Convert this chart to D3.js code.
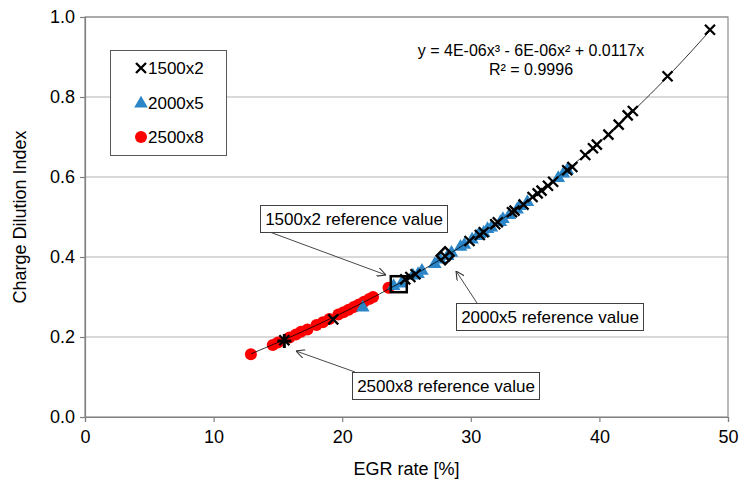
<!DOCTYPE html>
<html lang="en">

<head>
    <meta charset="UTF-8" />
    <title>Charge dilution index vs EGR rate</title>
    <script src="https://d3js.org/d3.v7.min.js"></script>
    <style>
        body {
            margin: 0;
            background: #fff;
        }

        svg text {
            font-family: "Liberation Sans", Arial, sans-serif;
            fill: #000;
        }

        .tick text {
            font-size: 18px;
        }
    </style>
</head>

<body>
    <svg width="739" height="483"></svg>
    <script>
        // 1500x2 points (EGR rate %, charge dilution index)
        const egr1500 = [15.5, 19.3, 24.9, 25.3, 25.7, 28.0, 29.9, 30.7, 31.0, 31.9, 32.1, 33.2, 33.4, 34.1, 34.8,
            35.2, 35.5, 36.0, 36.4, 37.5, 37.9, 38.9, 39.5, 39.8, 40.7, 41.5, 42.2, 42.6, 45.3, 48.6];
        const cdi1500 = [0.192, 0.244, 0.344, 0.350, 0.357, 0.402, 0.440, 0.455, 0.462, 0.482, 0.487, 0.512, 0.516, 0.531, 0.550,
            0.559, 0.566, 0.578, 0.588, 0.617, 0.625, 0.655, 0.672, 0.681, 0.706, 0.731, 0.754, 0.765, 0.852, 0.968];

        // 2000x5 points
        const egr2000 = [21.6, 24.0, 24.6, 25.5, 25.9, 26.2, 27.2, 27.6, 28.2, 28.5, 29.2, 29.5, 30.1, 30.5, 30.7,
            31.0, 31.3, 31.6, 32.3, 32.5, 33.0, 33.6, 33.8, 34.4, 36.8, 37.2, 37.5];
        const cdi2000 = [0.276, 0.330, 0.336, 0.356, 0.360, 0.368, 0.385, 0.396, 0.405, 0.413, 0.428, 0.433, 0.446, 0.455, 0.460,
            0.463, 0.472, 0.476, 0.490, 0.497, 0.507, 0.521, 0.530, 0.540, 0.600, 0.611, 0.620];

        // 2500x8 points
        const egr2500 = [12.9, 14.6, 15.0, 15.9, 16.4, 16.8, 17.3, 18.0, 18.5, 19.0, 19.7, 20.1, 20.5, 20.9, 21.3,
            21.7, 22.1, 22.4, 23.6];
        const cdi2500 = [0.157, 0.180, 0.186, 0.199, 0.206, 0.213, 0.219, 0.230, 0.237, 0.245, 0.256, 0.262, 0.268, 0.275, 0.281,
            0.288, 0.295, 0.300, 0.323];

        // reference values: 1500x2, 2000x5, 2500x8
        const refEgr = [24.4, 28.0, 15.5];
        const refCdi = [0.332, 0.403, 0.190];

        const seriesNames = ["1500x2", "2000x5", "2500x8"];
        const xTicks = [0, 10, 20, 30, 40, 50];
        const yTicks = [0, 0.2, 0.4, 0.6, 0.8, 1.0];
        const equationText = ["y = 4E-06x³ - 6E-06x² + 0.0117x", "R² = 0.9996"];

        var svg = d3.select("svg");

        var x = d3.scaleLinear().domain([0, 50]).range([85, 728]);
        var y = d3.scaleLinear().domain([0, 1]).range([417, 17]);

        // gridlines
        svg.append("g")
            .selectAll("line")
            .data(yTicks.slice(1))
            .enter()
            .append("line")
            .attr("x1", x(0))
            .attr("x2", x(50))
            .attr("y1", d => y(d))
            .attr("y2", d => y(d))
            .attr("stroke", "#b4b4b4")
            .attr("stroke-width", 1.2);

        // plot border
        svg.append("rect")
            .attr("x", x(0))
            .attr("y", y(1))
            .attr("width", x(50) - x(0))
            .attr("height", y(0) - y(1))
            .attr("fill", "none")
            .attr("stroke", "#8c8c8c")
            .attr("stroke-width", 1.2);

        // axes
        var xAxis = svg.append("g")
            .attr("transform", "translate(0," + y(0) + ")")
            .call(d3.axisBottom(x).tickValues(xTicks).tickSize(5).tickPadding(8).tickFormat(d3.format("d")));
        var yAxis = svg.append("g")
            .attr("transform", "translate(" + x(0) + ",0)")
            .call(d3.axisLeft(y).tickValues(yTicks).tickSize(5).tickPadding(5).tickFormat(d3.format(".1f")));
        [xAxis, yAxis].forEach(function(a) {
            a.select(".domain").attr("stroke", "#808080").attr("stroke-width", 1.2);
            a.selectAll(".tick line").attr("stroke", "#808080").attr("stroke-width", 1.2);
            a.selectAll(".tick text").attr("fill", "#000");
        });

        // axis titles
        svg.append("text")
            .attr("x", (x(0) + x(50)) / 2)
            .attr("y", 475)
            .attr("text-anchor", "middle")
            .style("font-size", "18px")
            .text("EGR rate [%]");
        svg.append("text")
            .attr("transform", "translate(26," + (y(0) + y(1)) / 2 + ") rotate(-90)")
            .attr("text-anchor", "middle")
            .style("font-size", "18px")
            .text("Charge Dilution Index");

        // cubic trendline through origin, least squares fit of all points
        var allX = egr1500.concat(egr2000, egr2500);
        var allY = cdi1500.concat(cdi2000, cdi2500);
        var M = [[0, 0, 0], [0, 0, 0], [0, 0, 0]], V = [0, 0, 0];
        allX.forEach(function(xv, i) {
            var f = [xv * xv * xv, xv * xv, xv];
            for (var r = 0; r < 3; r++) {
                V[r] += f[r] * allY[i];
                for (var c = 0; c < 3; c++) M[r][c] += f[r] * f[c];
            }
        });
        // gaussian elimination
        for (var k = 0; k < 3; k++) {
            for (var r = k + 1; r < 3; r++) {
                var m = M[r][k] / M[k][k];
                for (var c = k; c < 3; c++) M[r][c] -= m * M[k][c];
                V[r] -= m * V[k];
            }
        }
        var coef = [0, 0, 0];
        for (var r = 2; r >= 0; r--) {
            var s = V[r];
            for (var c = r + 1; c < 3; c++) s -= M[r][c] * coef[c];
            coef[r] = s / M[r][r];
        }
        var xMin = d3.min(allX), xMax = d3.max(allX);
        var fitPts = d3.range(0, 101).map(function(i) {
            var xv = xMin + (xMax - xMin) * i / 100;
            return [xv, coef[0] * xv * xv * xv + coef[1] * xv * xv + coef[2] * xv];
        });

        // markers
        var tri = d3.symbol().type(d3.symbolTriangle).size(80);
        var plot = svg.append("g");

        plot.selectAll(".p2500")
            .data(d3.zip(egr2500, cdi2500))
            .enter()
            .append("circle")
            .attr("cx", d => x(d[0]))
            .attr("cy", d => y(d[1]))
            .attr("r", 6)
            .attr("fill", "#ff0000");

        plot.selectAll(".p2000")
            .data(d3.zip(egr2000, cdi2000))
            .enter()
            .append("path")
            .attr("d", tri)
            .attr("transform", d => "translate(" + x(d[0]) + "," + (y(d[1]) + 1) + ")")
            .attr("fill", "#2b85c6");

        function cross(sel, size, width) {
            sel.append("path")
                .attr("d", "M" + (-size) + "," + (-size) + "L" + size + "," + size + "M" + (-size) + "," + size + "L" + size + "," + (-size))
                .attr("stroke", "#000")
                .attr("stroke-width", width)
                .attr("fill", "none");
        }

        plot.selectAll(".p1500")
            .data(d3.zip(egr1500, cdi1500))
            .enter()
            .append("g")
            .attr("transform", d => "translate(" + x(d[0]) + "," + y(d[1]) + ")")
            .call(cross, 5, 2.3);

        // trendline
        svg.append("path")
            .datum(fitPts)
            .attr("d", d3.line().x(d => x(d[0])).y(d => y(d[1])))
            .attr("fill", "none")
            .attr("stroke", "#000")
            .attr("stroke-width", 0.8);

        // reference value markers
        svg.append("rect")
            .attr("x", x(refEgr[0]) - 8)
            .attr("y", y(refCdi[0]) - 8)
            .attr("width", 16)
            .attr("height", 16)
            .attr("fill", "none")
            .attr("stroke", "#000")
            .attr("stroke-width", 2.5);
        svg.append("rect")
            .attr("x", -6)
            .attr("y", -6)
            .attr("width", 12)
            .attr("height", 12)
            .attr("transform", "translate(" + x(refEgr[1]) + "," + y(refCdi[1]) + ") rotate(45)")
            .attr("fill", "none")
            .attr("stroke", "#000")
            .attr("stroke-width", 2.5);
        svg.append("path")
            .attr("transform", "translate(" + x(refEgr[2]) + "," + y(refCdi[2]) + ")")
            .attr("d", "M-7,0H7M0,-7V7")
            .attr("stroke", "#000")
            .attr("stroke-width", 3);

        // equation
        equationText.forEach(function(t, i) {
            svg.append("text")
                .attr("x", 531)
                .attr("y", 56 + i * 19)
                .attr("text-anchor", "middle")
                .style("font-size", "16px")
                .text(t);
        });

        // legend
        var legend = svg.append("g");
        legend.append("rect")
            .attr("x", 110.5)
            .attr("y", 50.5)
            .attr("width", 116)
            .attr("height", 105)
            .attr("fill", "#fff")
            .attr("stroke", "#595959")
            .attr("stroke-width", 1);
        seriesNames.forEach(function(name, i) {
            var ly = 68 + i * 34.5;
            var g = legend.append("g").attr("transform", "translate(141," + ly + ")");
            if (i === 0) g.call(cross, 5, 2.3);
            else if (i === 1) g.append("path").attr("d", tri).attr("transform", "translate(0,1)").attr("fill", "#2b85c6");
            else g.append("circle").attr("r", 6).attr("fill", "#ff0000");
            legend.append("text")
                .attr("x", 148)
                .attr("y", ly + 6)
                .style("font-size", "17px")
                .text(name);
        });

        // annotation callouts
        var notes = [
            { text: "1500x2 reference value", bx: 260, by: 205, from: [267, 231], to: [386, 275] },
            { text: "2000x5 reference value", bx: 456, by: 303, from: [477, 303], to: [456, 271] },
            { text: "2500x8 reference value", bx: 352, by: 372, from: [355, 372], to: [296, 351] }
        ];
        svg.append("defs").append("marker")
            .attr("id", "arrow")
            .attr("viewBox", "0 0 10 10")
            .attr("refX", 10)
            .attr("refY", 5)
            .attr("markerWidth", 9)
            .attr("markerHeight", 9)
            .attr("markerUnits", "userSpaceOnUse")
            .attr("orient", "auto")
            .append("path")
            .attr("d", "M0,0L10,5L0,10")
            .attr("fill", "none")
            .attr("stroke", "#333")
            .attr("stroke-width", 1.2);
        notes.forEach(function(n) {
            svg.append("line")
                .attr("x1", n.from[0])
                .attr("y1", n.from[1])
                .attr("x2", n.to[0])
                .attr("y2", n.to[1])
                .attr("stroke", "#333")
                .attr("stroke-width", 0.9)
                .attr("marker-end", "url(#arrow)");
            svg.append("rect")
                .attr("x", n.bx + 0.5)
                .attr("y", n.by + 0.5)
                .attr("width", 187)
                .attr("height", 27)
                .attr("fill", "#fff")
                .attr("stroke", "#404040")
                .attr("stroke-width", 1);
            svg.append("text")
                .attr("x", n.bx + 94)
                .attr("y", n.by + 20)
                .attr("text-anchor", "middle")
                .style("font-size", "17px")
                .text(n.text);
        });
    </script>
</body>

</html>
